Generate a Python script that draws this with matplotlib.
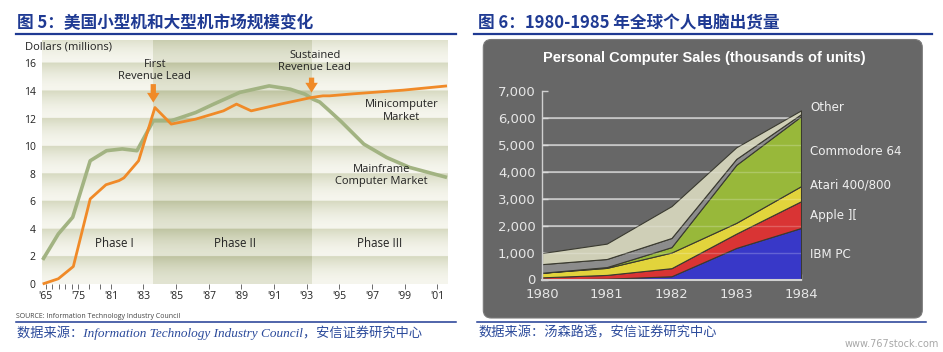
import numpy as np
import matplotlib
matplotlib.use('Agg')
import matplotlib.pyplot as plt
from matplotlib.patches import FancyBboxPatch
from matplotlib.lines import Line2D

# ---------------- left chart: US mini vs mainframe market ($ millions) -------------
mainframe_years = [1964.1, 1968.9, 1973.3, 1977.2, 1980.2, 1981.7, 1982.6, 1983.6, 1984.7,
                   1986.2, 1987.3, 1988.9, 1990.7, 1992.0, 1992.9, 1993.4, 1993.8, 1994.4,
                   1995.1, 1996.5, 1997.9, 1999.3, 2001.6]
mainframe_vals = [1.75, 3.63, 4.84, 8.94, 9.67, 9.8, 9.67, 11.84, 11.84,
                  12.44, 13.05, 13.9, 14.37, 14.13, 13.77, 13.4, 13.2, 12.56,
                  11.8, 10.15, 9.18, 8.46, 7.73]
mini_years = [1964.1, 1968.9, 1973.5, 1977.2, 1980.1, 1981.5, 1981.8, 1982.7, 1983.7, 1984.7,
              1986.2, 1987.9, 1988.7, 1989.6, 1991.4, 1993.3, 1994.0, 1994.4, 1995.9,
              1998.9, 2001.6]
mini_vals = [0.0, 0.38, 1.27, 6.17, 7.2, 7.5, 7.7, 8.94, 12.8, 11.6,
             11.96, 12.56, 13.05, 12.56, 13.05, 13.53, 13.65, 13.65, 13.8,
             14.06, 14.37]

tick_years = [1965, 1967, 1969, 1971, 1973, 1975, 1977, 1979, 1981, 1983, 1985, 1987,
              1989, 1991, 1993, 1995, 1997, 1999, 2001]
tick_labels = ["'65", "", "", "", "", "'75", "", "", "'81", "'83", "'85", "'87",
               "'89", "'91", "'93", "'95", "'97", "'99", "'01"]
y_ticks_left = [0, 2, 4, 6, 8, 10, 12, 14, 16]

# the year axis is not linear: equal spacing between '65-'75-'81-'83 and then every 2 years
break_years = np.array([1950, 1965, 1975, 1981, 1983, 2020], dtype=float)
break_pos = np.array([-1.5, 0, 1, 2, 3, 21.5])

phase_edges = [1983.6, 1993.3]
phase_names = ["Phase I", "Phase II", "Phase III"]

# ---------------- right chart: PC sales (thousands of units) -----------------------
pc_years = [1980, 1981, 1982, 1983, 1984]
ibm_pc = [0, 30, 120, 1170, 1910]
apple_2 = [80, 140, 300, 530, 990]
atari = [170, 260, 580, 400, 560]
commodore = [0, 30, 200, 2150, 2590]
grey_band = [320, 300, 340, 220, 80]
other = [410, 570, 1180, 430, 140]
pc_names = ["IBM PC", "Apple ][", "Atari 400/800", "Commodore 64", "", "Other"]
pc_yticks = [0, 1000, 2000, 3000, 4000, 5000, 6000, 7000]

BLUE = '#1f3a93'
W, H = 943, 352


def fx(px):
    return px / W


def fy(py):
    return 1 - py / H


def fwd(y):
    return np.interp(y, break_years, break_pos)


def inv(p):
    return np.interp(p, break_pos, break_years)


def band_image(dark, light, ymax, n=500):
    v = np.linspace(0, ymax, n)
    f = (v % 2) / 2.0
    t = f ** 1.8
    dark = np.array(dark) / 255.0
    light = np.array(light) / 255.0
    col = light[None, :] + (dark - light)[None, :] * t[:, None]
    return col[:, None, :]


fig = plt.figure(figsize=(W / 100, H / 100), dpi=100)

# ================= left panel =================
xlim_l = (1963.9, 2001.6)
ymax_l = 17.7
rect_l = [fx(42), fy(284), fx(405), 244 / H]

bg = fig.add_axes(rect_l, zorder=0)
bg.set_axis_off()
px0, px1 = fwd(xlim_l[0]), fwd(xlim_l[1])
pe0, pe1 = fwd(phase_edges[0]), fwd(phase_edges[1])
light_img = band_image((214, 217, 192), (246, 246, 238), ymax_l)
dark_img = band_image((190, 195, 160), (226, 228, 210), ymax_l)
bg.imshow(light_img, extent=(px0, pe0, 0, ymax_l), origin='lower', aspect='auto')
bg.imshow(dark_img, extent=(pe0, pe1, 0, ymax_l), origin='lower', aspect='auto')
bg.imshow(light_img, extent=(pe1, px1, 0, ymax_l), origin='lower', aspect='auto')
bg.set_xlim(px0, px1)
bg.set_ylim(0, ymax_l)

ax = fig.add_axes(rect_l, zorder=1)
ax.patch.set_alpha(0)
ax.set_xscale('function', functions=(fwd, inv))
ax.set_xlim(*xlim_l)
ax.set_ylim(0, ymax_l)

ax.plot(mainframe_years, mainframe_vals, color='#a2b382', lw=2.6, solid_capstyle='butt',
        clip_on=False, zorder=3)
ax.plot(mini_years, mini_vals, color='#f08a28', lw=2.0, solid_capstyle='butt',
        clip_on=False, zorder=4)

for sp in ax.spines.values():
    sp.set_visible(False)
ax.set_xticks(tick_years)
ax.set_xticklabels(tick_labels)
ax.set_yticks(y_ticks_left)
ax.tick_params(axis='x', length=3.5, width=0.6, color='#555555', pad=1.5,
               labelsize=7.5, labelcolor='#222222')
ax.tick_params(axis='y', length=0, pad=4.5, labelsize=7.5, labelcolor='#222222')
for lab in ax.get_xticklabels() + ax.get_yticklabels():
    lab.set_family('Open Sans')

txt = dict(family='Open Sans', fontsize=8, color='#222222', ha='center', va='center',
           linespacing=1.2)
ax.text(1983.7, 15.48, "First\nRevenue Lead", **txt)
ax.text(1993.5, 16.13, "Sustained\nRevenue Lead", **txt)
ax.text(1998.8, 12.56, "Minicomputer\nMarket", **txt)
ax.text(1997.6, 7.86, "Mainframe\nComputer Market", **txt)
for name, xp in zip(phase_names, [1981.2, 1988.6, 1997.5]):
    ax.text(xp, 2.91, name, family='Open Sans', fontsize=8.3, color='#222222',
            ha='center', va='center')

arrow = dict(arrowstyle='simple,head_width=0.9,head_length=0.7,tail_width=0.38',
             color='#f08a28', lw=0, shrinkA=0, shrinkB=0, mutation_scale=10)
ax.annotate('', xy=(1983.6, 13.16), xytext=(1983.6, 14.5), arrowprops=arrow, zorder=5)
ax.annotate('', xy=(1993.3, 13.89), xytext=(1993.3, 14.97), arrowprops=arrow, zorder=5)

fig.text(fx(25), fy(47), "Dollars (millions)", family='Open Sans', fontsize=8,
         color='#222222', ha='left', va='center')
fig.text(fx(16), fy(316), "SOURCE: Information Technology Industry Council",
         family='Open Sans', fontsize=5, color='#444444', ha='left', va='center')

# ================= right panel =================
box = FancyBboxPatch((4.833, (H - 318) / 100), 4.39, (318 - 39.5) / 100,
                     boxstyle='round,pad=0,rounding_size=0.08',
                     transform=fig.dpi_scale_trans, facecolor='#676767',
                     edgecolor='#7a7a7a', lw=0.8, zorder=0)
fig.patches.append(box)

ax2 = fig.add_axes([fx(542), fy(279.5), fx(259), 188.8 / H], zorder=2)
ax2.patch.set_visible(False)
ax2.set_xlim(1980, 1984)
ax2.set_ylim(0, 7000)
ax2.hlines(pc_yticks[1:-1], 1980, 1984, color='#c4c4c4', lw=1.2, zorder=0.5)
pc_colors = ['#3838c8', '#d93434', '#e2d43c', '#98b83a', '#8c8c8c', '#cfcfb7']
ax2.stackplot(pc_years, ibm_pc, apple_2, atari, commodore, grey_band, other,
              colors=pc_colors, edgecolor='#3a3a30', lw=0.8, zorder=2)
ax2.hlines(pc_yticks[1:-1], 1980, 1984, color='white', alpha=0.22, lw=1.0, zorder=3)

label_y = [945, 2355, 3500, 4730, None, 6360]
for name, ly in zip(pc_names, label_y):
    if name:
        ax2.text(1984.14, ly, name, color='#f0f0f0', fontsize=8.6, family='DejaVu Sans',
                 ha='left', va='center', clip_on=False)

for s in ['top', 'right']:
    ax2.spines[s].set_visible(False)
ax2.spines['left'].set_color('#d0d0d0')
ax2.spines['left'].set_linewidth(1.0)
ax2.spines['bottom'].set_color('#d0d0d0')
ax2.spines['bottom'].set_linewidth(1.5)
ax2.set_yticks(pc_yticks)
ax2.set_yticklabels([f"{v:,}" for v in pc_yticks])
ax2.set_xticks(pc_years)
ax2.set_xticklabels([str(y) for y in pc_years])
ax2.tick_params(axis='both', direction='in', length=4, width=1, color='#d0d0d0',
                labelsize=9.5, labelcolor='#e6e6e6')
ax2.tick_params(axis='y', pad=4.5)
ax2.tick_params(axis='x', pad=6)

fig.text(fx(704), fy(58), "Personal Computer Sales (thousands of units)",
         family='Liberation Sans', weight='bold', fontsize=10.5, color='white',
         ha='center', va='center')

# ================= titles, rules, sources =================
cjk = ['Noto Sans CJK SC', 'DejaVu Sans']
fig.text(fx(17), fy(23), "图 5：美国小型机和大型机市场规模变化", family=cjk,
         weight='bold', fontsize=12, color=BLUE, ha='left', va='center')
fig.text(fx(478), fy(23), "图 6：1980-1985 年全球个人电脑出货量", family=cjk,
         weight='bold', fontsize=12, color=BLUE, ha='left', va='center')
for x0, x1 in [(16, 456), (474, 932)]:
    fig.add_artist(Line2D([fx(x0), fx(x1)], [fy(33.5)] * 2, color=BLUE, lw=1.6))
for x0, x1 in [(16, 456), (477, 926)]:
    fig.add_artist(Line2D([fx(x0), fx(x1)], [fy(322)] * 2, color=BLUE, lw=1.1))

src = ['Liberation Serif', 'Noto Sans CJK SC']
fig.text(fx(17), fy(333), "数据来源：Information Technology Industry Council，安信证券研究中心",
         family=src, style='italic', fontsize=9.5, color='#2b4a9b', ha='left', va='center')
fig.text(fx(478), fy(333), "数据来源：汤森路透，安信证券研究中心",
         family=src, style='italic', fontsize=9.5, color='#2b4a9b', ha='left', va='center')
fig.text(fx(939), fy(344), "www.767stock.com", family='DejaVu Sans', fontsize=7,
         color='#a8a8a8', ha='right', va='center')

fig.savefig('out.png', dpi=100)
